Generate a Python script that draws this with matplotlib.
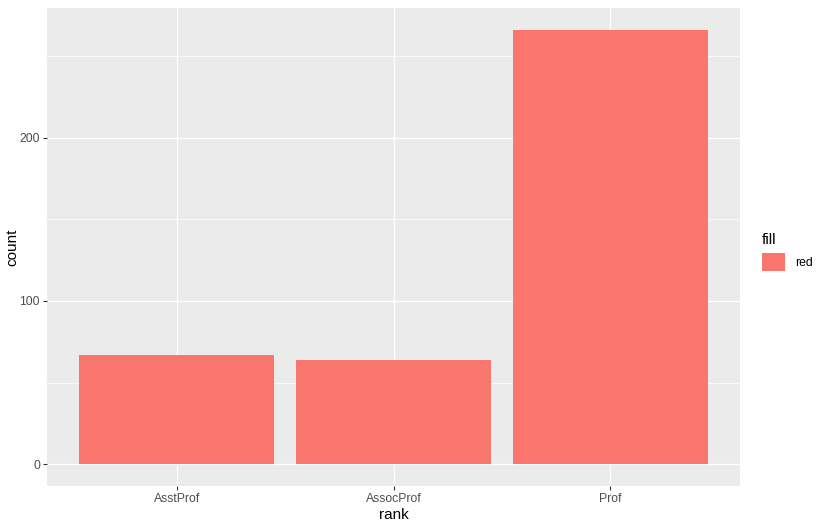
import matplotlib
matplotlib.use("Agg")
from matplotlib import pyplot as plt
from matplotlib.patches import Patch

plt.rcParams['font.family'] = ['Liberation Sans', 'DejaVu Sans']

# data
ranks = ["AsstProf", "AssocProf", "Prof"]
counts = [67, 64, 266]
y_ticks = [0, 100, 200]
y_minor = [50, 150, 250]

bar_color = "#F8766D"
panel_bg = "#EBEBEB"

fig = plt.figure(figsize=(8.19, 5.27), dpi=100)
ax = fig.add_axes([47 / 819, 41 / 527, 693 / 819, 478 / 527])
ax.set_facecolor(panel_bg)

xs = list(range(1, len(ranks) + 1))
ax.bar(xs, counts, width=0.9, color=bar_color, zorder=3)

ax.set_xlim(0.4, 3.6)
ymax = max(counts)
ax.set_ylim(-0.05 * ymax, ymax * 1.05)

ax.set_xticks(xs)
ax.set_xticklabels(ranks)
ax.set_yticks(y_ticks)
ax.set_yticks(y_minor, minor=True)

ax.grid(which="major", color="white", linewidth=1.0, zorder=0)
ax.grid(which="minor", axis="y", color="white", linewidth=0.5, zorder=0)
ax.set_axisbelow(True)

for s in ax.spines.values():
    s.set_visible(False)
ax.tick_params(which="major", length=3, color="#333333", labelsize=8.8,
               labelcolor="#4D4D4D", pad=2)
ax.tick_params(which="minor", length=0)

ax.set_xlabel("rank", fontsize=11, labelpad=2)
ax.set_ylabel("count", fontsize=11)
ax.yaxis.set_label_coords(-28 / 693, 0.5)

handles = [Patch(facecolor=bar_color, edgecolor="none", label="red")]
leg = fig.legend(handles=handles, title="fill", loc="upper left",
                 bbox_to_anchor=(751 / 819, 1 - 222 / 527), frameon=False,
                 fontsize=8.8, title_fontsize=11, handlelength=1.9,
                 handleheight=1.9, handletextpad=0.8, alignment="left")

fig.savefig("out.png", dpi=100)
